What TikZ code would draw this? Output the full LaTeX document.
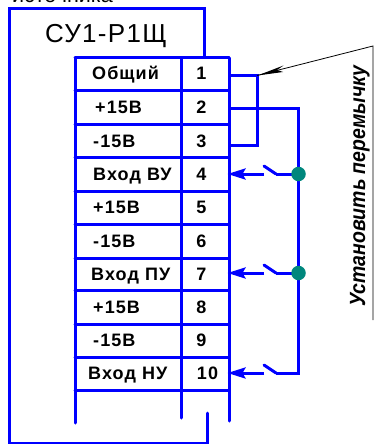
\documentclass[tikz,border=0pt]{standalone}
\usepackage{fontspec}
\setmainfont{Liberation Sans}
\usetikzlibrary{arrows.meta}
\definecolor{dotcol}{RGB}{0,135,125}
\tikzset{
  wire/.style={draw=blue,line width=3pt,line cap=round},
  bus/.style={draw=blue,line width=3pt,line cap=butt,line join=miter},
  rowlabel/.style={font=\bfseries\fontsize{18}{18}\selectfont\addfontfeature{LetterSpace=6},text=black,inner sep=0pt,anchor=base west},
  numlabel/.style={rowlabel,anchor=base},
  dotnode/.style={circle,fill=dotcol,inner sep=0pt,minimum size=14.5pt},
  entry/.style={-{Stealth[length=18pt,width=11pt,inset=3pt]},draw=blue,line width=3pt}
}
\begin{document}
\begin{tikzpicture}[x=1pt,y=-1pt]
\useasboundingbox (0,0) rectangle (374,444);
% cut-off heading
\begin{scope}
\clip (0,0) rectangle (374,444);
\node[anchor=base east,inner sep=0pt,font=\fontsize{21.5}{22}\selectfont] (head) at (113,3) {источника};
\end{scope}
% outer frame
\draw[wire] (207,413) -- (207,443) -- (9,443) -- (9,9) -- (204,9) -- (204,57);
\node[inner sep=0pt,anchor=base,font=\fontsize{26}{28}\selectfont\addfontfeature{LetterSpace=5}] (title) at (106,43) {СУ1-Р1Щ};
% table
\foreach \y in {58,90,124,157,191,224,258,290,324,357,390} \draw[wire] (75,\y) -- (229,\y);
\draw[wire] (75,58) -- (75,423);
\draw[wire] (181.5,58) -- (181.5,418);
\draw[wire] (229,58) -- (229,421);
% row labels
\foreach \t/\x/\y in {Общий/92/79, +15В/95/113, -15В/93/147, Вход ВУ/93/180, +15В/93/213, -15В/93/247, Вход ПУ/91/280, +15В/93/313, -15В/93/346, Вход НУ/88/379}
  \node[rowlabel] at (\x,\y) {\t};
% numbers
\foreach \t/\y in {1/79,2/113,3/147,4/180,5/213,6/247,7/280,8/313,9/346}
  \node[numlabel,name=n\t] at (201.5,\y) {\t};
\node[numlabel,name=n10] at (207.5,379) {10};
% jumper
\coordinate (j1a) at (229,75.5);
\coordinate (j1b) at (257,75.5);
\coordinate (j3a) at (229,145);
\coordinate (j3b) at (257,145);
\coordinate (p2a) at (229,108);
\coordinate (p2b) at (298.5,108);
\draw[bus] (j1a) -- (j1b) -- (j3b) -- (j3a);
% bus
\coordinate (b4) at (298.5,174);
\coordinate (b7) at (298.5,273);
\coordinate (b10) at (298.5,373);
\draw[bus] (p2a) -- (p2b) -- (b10) -- (277,373);
% switches
\foreach \n/\y in {b4/174, b7/273, b10/373}{
  \draw[bus] (\n) -- (276,\y);
  \draw[wire] (276,\y) -- (264,{\y-8});
  \draw[entry] (264,\y) -- (227.5,\y);
}
\node[dotnode] (d4) at (b4) {};
\node[dotnode] (d7) at (b7) {};
% leader
\coordinate (lend) at (373,46);
\draw[black,line width=0.8pt] (373,320) -- (lend) -- (j1b);
\fill[black] (257.5,75.5) -- (283.5,65.5) -- (277,70) -- (283,72) -- cycle;
\node[rotate=90,anchor=base,inner sep=0pt,font=\bfseries\itshape\fontsize{22}{22}\selectfont] (lbl) at (365,186) {\scalebox{0.885}[1]{Установить перемычку}};
\end{tikzpicture}
\end{document}
